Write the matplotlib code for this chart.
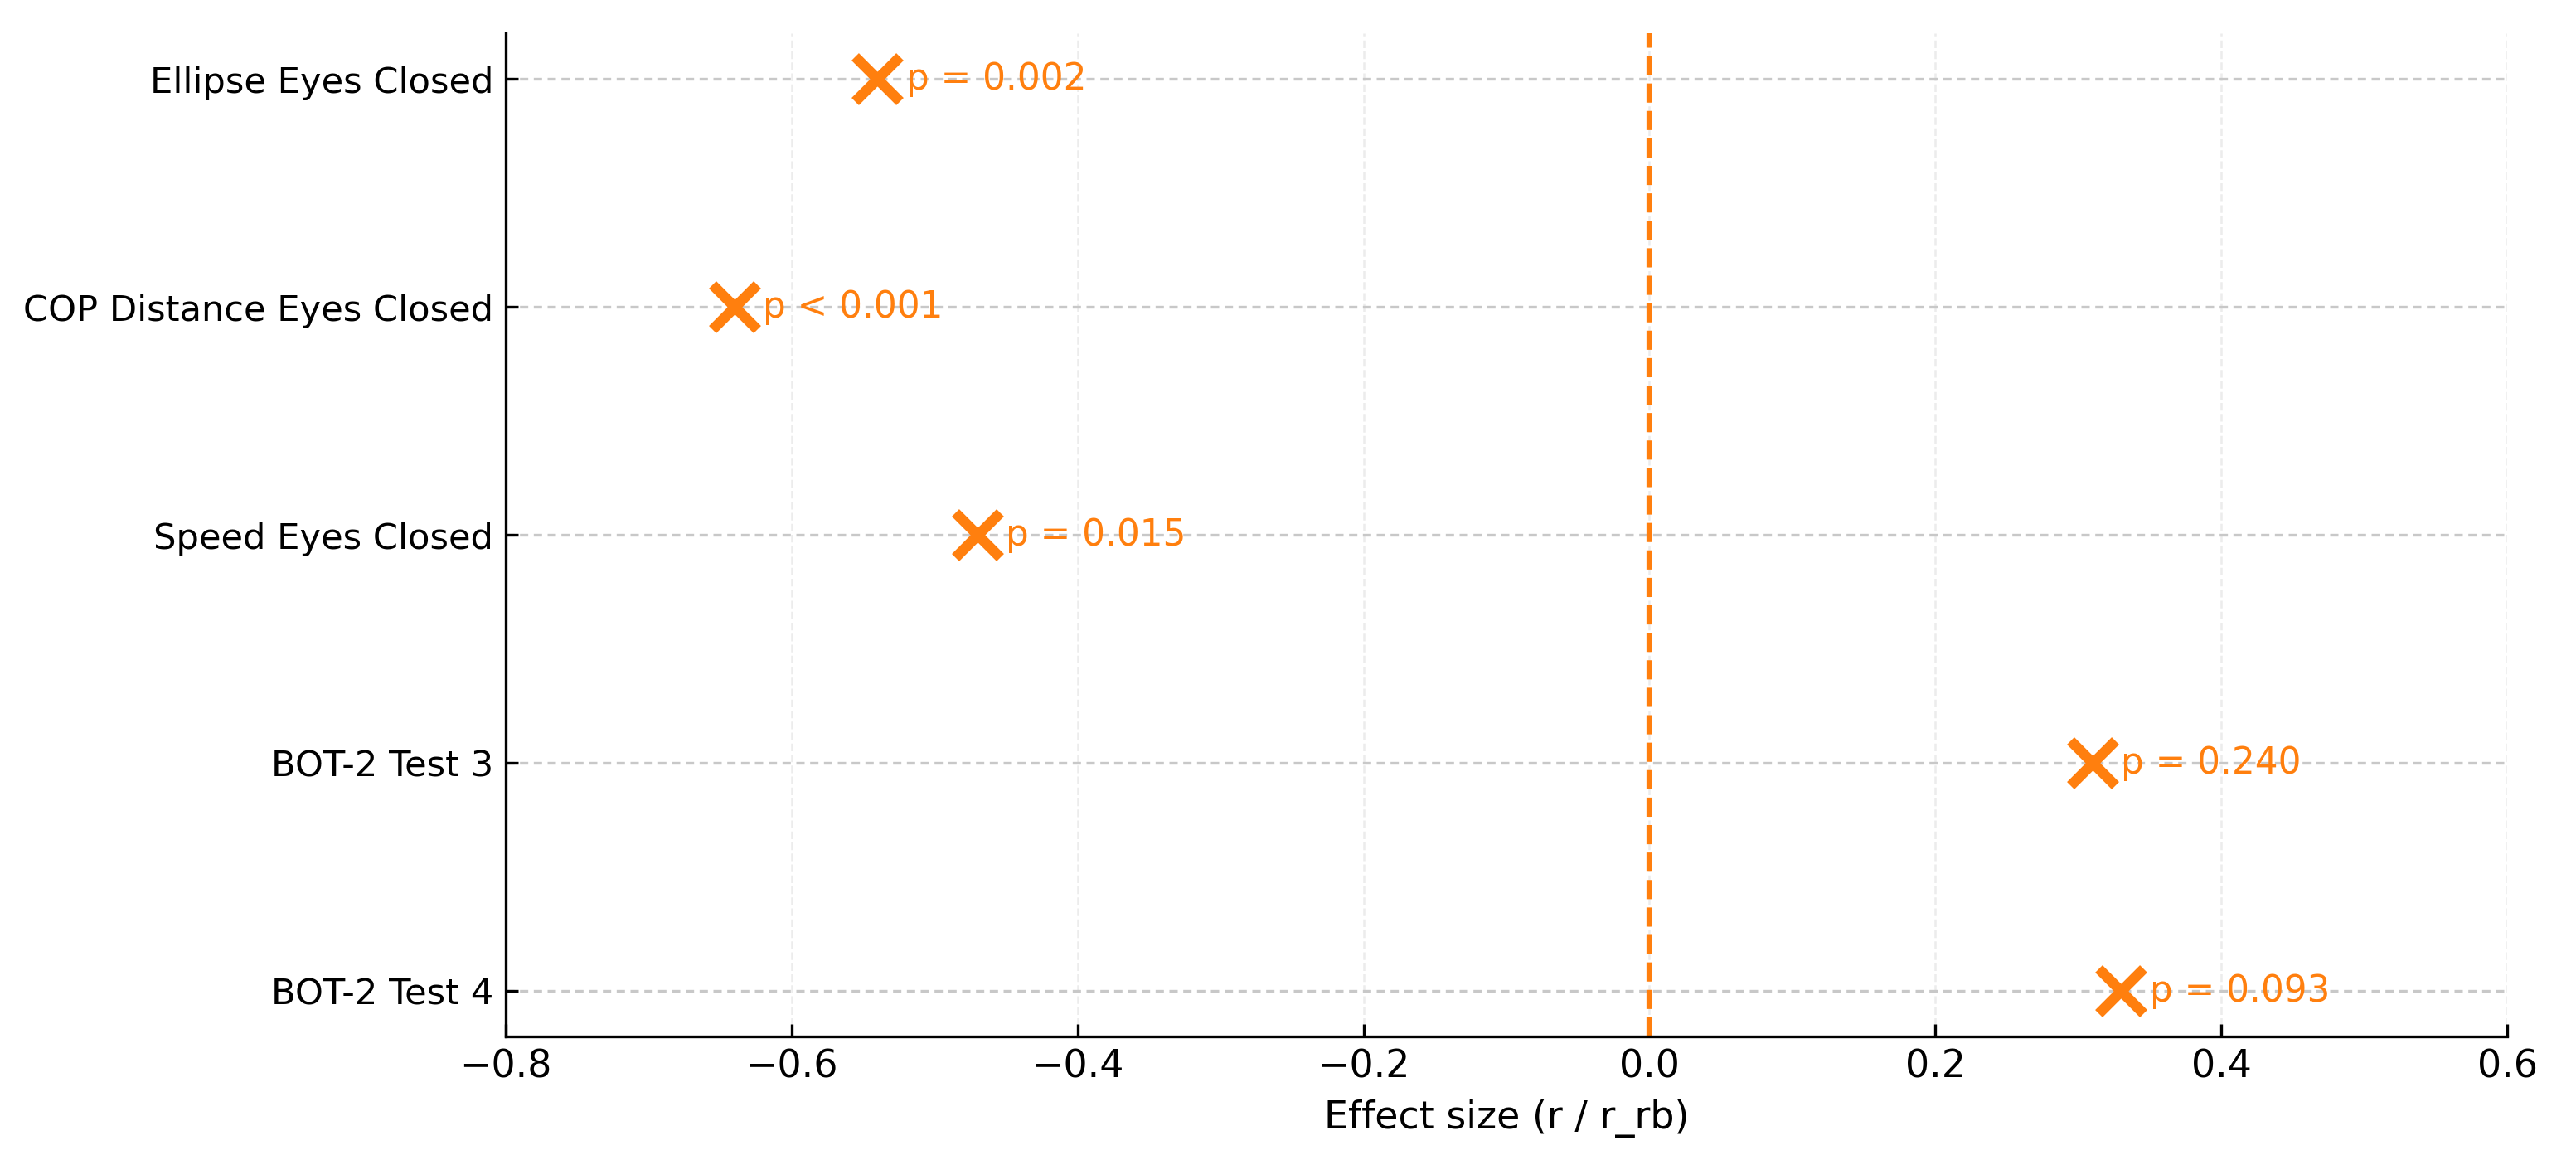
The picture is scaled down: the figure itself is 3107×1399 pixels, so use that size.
import matplotlib.pyplot as plt

# effect sizes per outcome (top to bottom)
measures = ["Ellipse Eyes Closed", "COP Distance Eyes Closed", "Speed Eyes Closed",
            "BOT-2 Test 3", "BOT-2 Test 4"]
effect_sizes = [-0.54, -0.64, -0.47, 0.31, 0.33]
p_labels = ["p = 0.002", "p < 0.001", "p = 0.015", "p = 0.240", "p = 0.093"]

orange = "#ff7f0e"

fig, ax = plt.subplots(figsize=(3107 / 300, 1399 / 300), dpi=300)
fig.subplots_adjust(left=0.1963, right=0.9733, top=0.9714, bottom=0.1065)

ypos = list(range(len(measures)))
ax.plot(effect_sizes, ypos, linestyle="none", marker="x", markersize=13,
        markeredgewidth=3, color=orange, zorder=3)
for x, y, lab in zip(effect_sizes, ypos, p_labels):
    ax.text(x + 0.02, y, lab, va="center", ha="left", color=orange, fontsize=10.5)

ax.axvline(0, color=orange, linestyle="--", linewidth=1.5, zorder=2)

ax.set_yticks(ypos)
ax.set_yticklabels(measures, fontsize=10.4)
ax.invert_yaxis()
ax.set_xlim(-0.8, 0.6)
ax.tick_params(axis="x", labelsize=11, direction="in")
ax.tick_params(axis="y", direction="in")
ax.set_xlabel("Effect size (r / r_rb)", fontsize=11)

ax.xaxis.grid(True, linestyle="--", color="#ececec", linewidth=0.6)
ax.yaxis.grid(True, linestyle=(0, (3, 2)), color="#c8c8c8", linewidth=0.8)
ax.set_axisbelow(True)
for side in ["top", "right"]:
    ax.spines[side].set_visible(False)

plt.savefig("out.png", dpi=300)
